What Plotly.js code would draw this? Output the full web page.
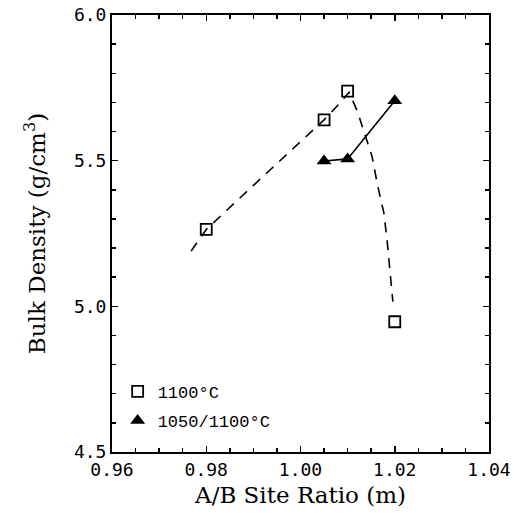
<!DOCTYPE html>
<html>
<head>
<meta charset="utf-8">
<script src="https://cdn.plot.ly/plotly-3.0.1.min.js"></script>
<style>html,body{margin:0;padding:0;background:#fff;}#chart{width:522px;height:528px;}</style>
</head>
<body>
<div id="chart"></div>
<script>
// Measured data: 1100°C (open squares)
const sqX = [0.980, 1.005, 1.010, 1.020];
const sqY = [5.264, 5.640, 5.739, 4.947];
// Measured data: 1050/1100°C (filled triangles)
const triX = [1.005, 1.010, 1.020];
const triY = [5.499, 5.506, 5.706];
// Dashed guide curve through the 1100°C data
const fitX = [0.9768, 0.980, 0.990, 1.000, 1.005, 1.0085, 1.0103, 1.0121, 1.0137, 1.0152, 1.0163, 1.0177, 1.0184, 1.0190, 1.0196];
const fitY = [5.190, 5.264, 5.415, 5.565, 5.640, 5.700, 5.735, 5.668, 5.590, 5.514, 5.420, 5.320, 5.222, 5.130, 5.016];
// Tick labels
const xTicks = [0.96, 0.98, 1.00, 1.02, 1.04];
const xTickText = ["0.96", "0.98", "1.00", "1.02", "1.04"];
const yTicks = [4.5, 5.0, 5.5, 6.0];
const yTickText = ["4.5", "5.0", "5.5", "6.0"];

const mono = "DejaVu Sans Mono, Liberation Mono, monospace";
const legMono = "Liberation Mono, DejaVu Sans Mono, monospace";
const serif = "DejaVu Serif, Liberation Serif, serif";

const traces = [
  {x: fitX, y: fitY, mode: "lines", showlegend: false, hoverinfo: "skip",
   line: {color: "#000", width: 1.6, dash: "10px,8px"}},
  {x: triX, y: triY, mode: "lines", showlegend: false, hoverinfo: "skip",
   line: {color: "#000", width: 1.6}},
  {x: sqX, y: sqY, mode: "markers", name: "1100°C", legendgroup: "a",
   marker: {symbol: "square-open", size: 11, color: "#000", line: {width: 1.8, color: "#000"}}},
  {x: triX, y: triY, mode: "markers", name: "1050/1100°C", legendgroup: "b",
   marker: {symbol: "triangle-up", size: 13, color: "#000", line: {width: 0}}}
];

const axisCommon = {
  showgrid: false, zeroline: false, showline: true, linecolor: "#000", linewidth: 2,
  mirror: "ticks", ticks: "inside", ticklen: 6, tickwidth: 1.5, tickcolor: "#000",
  tickfont: {family: mono, size: 18, color: "#000"}
};

const layout = {
  width: 522, height: 528,
  margin: {l: 112, r: 33, t: 15, b: 76},
  paper_bgcolor: "#fff", plot_bgcolor: "#fff",
  font: {family: serif, color: "#000"},
  xaxis: Object.assign({}, axisCommon, {
    range: [0.96, 1.04], tickmode: "array", tickvals: xTicks, ticktext: xTickText,
    minor: {dtick: 0.005, ticks: "inside", ticklen: 4, tickwidth: 1.5, tickcolor: "#000", showgrid: false},
    title: {text: "A/B Site Ratio (m)", font: {family: serif, size: 23, color: "#000"}, standoff: 8}
  }),
  yaxis: Object.assign({}, axisCommon, {
    range: [4.5, 6.0], tickmode: "array", tickvals: yTicks, ticktext: yTickText,
    minor: {dtick: 0.1, ticks: "inside", ticklen: 4, tickwidth: 1.5, tickcolor: "#000", showgrid: false},
    title: {text: "Bulk Density (g/cm<sup>3</sup>)", font: {family: serif, size: 23, color: "#000"}, standoff: 22}
  }),
  legend: {
    x: 0.015, y: 0.03, xanchor: "left", yanchor: "bottom",
    bgcolor: "rgba(0,0,0,0)", borderwidth: 0,
    font: {family: legMono, size: 17, color: "#000"},
    traceorder: "grouped", tracegroupgap: 4
  },
  showlegend: true
};

Plotly.newPlot("chart", traces, layout, {staticPlot: true, displayModeBar: false});
</script>
</body>
</html>
